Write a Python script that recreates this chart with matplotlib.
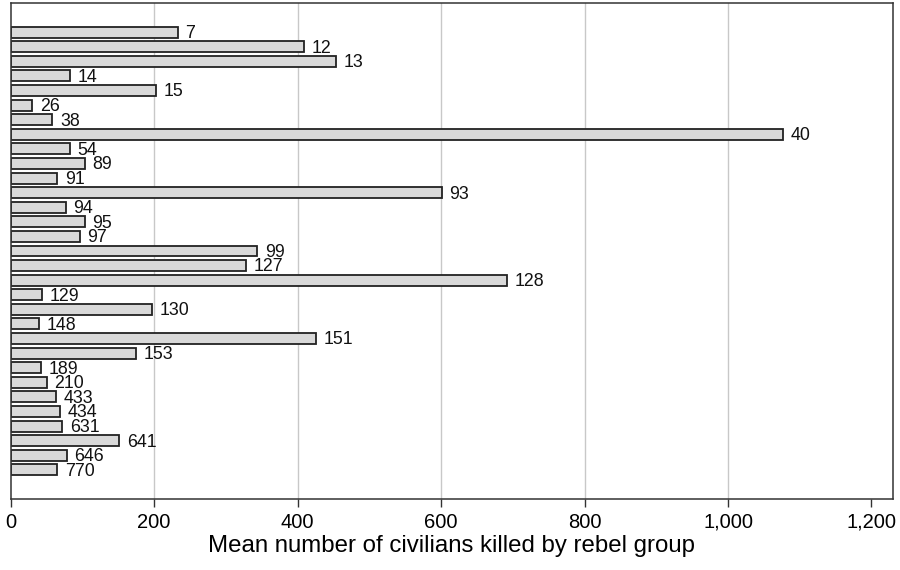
import matplotlib
matplotlib.use("Agg")
import matplotlib.pyplot as plt

plt.rcParams['font.family'] = ['Liberation Sans', 'DejaVu Sans']

group_ids = ["7", "12", "13", "14", "15", "26", "38", "40", "54", "89", "91", "93",
             "94", "95", "97", "99", "127", "128", "129", "130", "148", "151", "153",
             "189", "210", "433", "434", "631", "641", "646", "770"]
mean_killed = [233, 409, 453, 82, 203, 30, 58, 1076, 82, 103, 65, 601,
               77, 103, 96, 344, 328, 692, 44, 197, 40, 426, 174,
               42, 50, 63, 69, 72, 151, 78, 65]
x_ticks = [0, 200, 400, 600, 800, 1000, 1200]
x_tick_labels = ["0", "200", "400", "600", "800", "1,000", "1,200"]

fig = plt.figure(figsize=(9, 5.7), dpi=100)
ax = fig.add_axes([0.0119, 0.1246, 0.9803, 0.8701])

pos = list(range(len(group_ids)))
for t in x_ticks:
    if 0 < t < x_ticks[-1]:
        ax.axvline(t, color='#c8c8c8', lw=1.0, zorder=0)

bars = ax.barh(pos, mean_killed, height=0.75, color='#d9d9d9',
               edgecolor='#222222', linewidth=1.3, zorder=2)
for p, v, lab in zip(pos, mean_killed, group_ids):
    ax.annotate(lab, xy=(v, p), xytext=(5.5, -1), textcoords='offset points',
                ha='left', va='center', fontsize=12.8, color='#111111')

ax.set_xlim(0, 1230)
ax.set_ylim(32, -2)
ax.set_yticks([])
ax.set_xticks(x_ticks)
ax.set_xticklabels(x_tick_labels, fontsize=14.5)
ax.tick_params(axis='x', length=6, width=1, color='#333333', pad=4)
for s in ax.spines.values():
    s.set_color('#333333')
    s.set_linewidth(1.1)
ax.set_xlabel("Mean number of civilians killed by rebel group", fontsize=17.3, labelpad=2)

fig.savefig("out.png", dpi=100)
